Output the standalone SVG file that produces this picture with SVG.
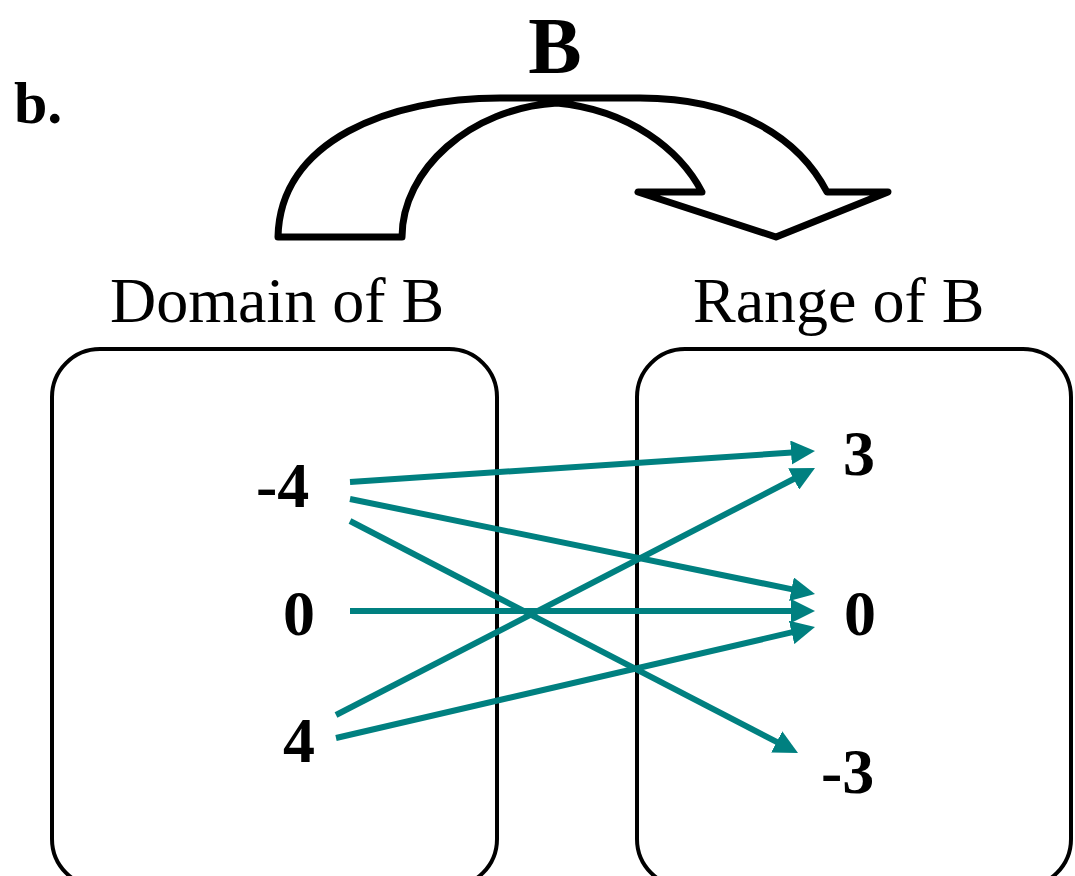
<svg xmlns="http://www.w3.org/2000/svg" width="1075" height="876" viewBox="0 0 1075 876">
<style>
.bold{font-family:"Liberation Serif","Times New Roman",serif;font-weight:bold;fill:#000}
.reg{font-family:"Liberation Serif","Times New Roman",serif;fill:#000}
.box{fill:#fff;stroke:#000;stroke-width:4}
.conn{stroke:#008080;stroke-width:6;fill:none}
</style>
<defs>
<marker id="ah" markerUnits="userSpaceOnUse" markerWidth="24" markerHeight="24" refX="1" refY="12" orient="auto" viewBox="0 0 24 24">
<path d="M0,0 L24,12 L0,24 Z" fill="#008080"/>
</marker>
</defs>
<rect width="1075" height="876" fill="#fff"/>
<text id="label-b" class="bold" x="14" y="123" font-size="60">b.</text>
<text id="title" class="bold" x="555" y="73" font-size="80" text-anchor="middle">B</text>
<g id="curved-arrow">
<path d="M278,237 C280,140 390,98 500,98 L640,98 C740,98 800,140 827,192 L888,192 L776,237 L638,192 L702,192 C680,150 630,110 557,103 C470,108 402,170 402,237 Z" fill="#fff" stroke="#000" stroke-width="7" stroke-linejoin="round"/>
</g>
<text id="domain-label" class="reg" x="110" y="322" font-size="64">Domain of B</text>
<text id="range-label" class="reg" x="693" y="322" font-size="64">Range of B</text>
<g id="domain-box">
<rect class="box" x="52" y="349" width="445" height="538" rx="48" ry="48"/>
</g>
<g id="range-box">
<rect class="box" x="637" y="349" width="434" height="538" rx="48" ry="48"/>
</g>
<g id="domain-values">
<text id="d-neg4" class="bold" x="256" y="507" font-size="64">-4</text>
<text id="d-0" class="bold" x="283" y="635" font-size="64">0</text>
<text id="d-4" class="bold" x="283" y="762" font-size="64">4</text>
</g>
<g id="range-values">
<text id="r-3" class="bold" x="843" y="475" font-size="64">3</text>
<text id="r-0" class="bold" x="844" y="635" font-size="64">0</text>
<text id="r-neg3" class="bold" x="821" y="793" font-size="64">-3</text>
</g>
<g id="connectors">
<line class="conn" x1="350" y1="482" x2="792.05" y2="452.53" marker-end="url(#ah)"/>
<line class="conn" x1="350" y1="499" x2="792.46" y2="589.4" marker-end="url(#ah)"/>
<line class="conn" x1="350" y1="521" x2="777.58" y2="742.42" marker-end="url(#ah)"/>
<line class="conn" x1="350" y1="611" x2="792" y2="611" marker-end="url(#ah)"/>
<line class="conn" x1="336" y1="715" x2="794.56" y2="478.54" marker-end="url(#ah)"/>
<line class="conn" x1="336" y1="738" x2="792.59" y2="632.19" marker-end="url(#ah)"/>
</g>
</svg>
